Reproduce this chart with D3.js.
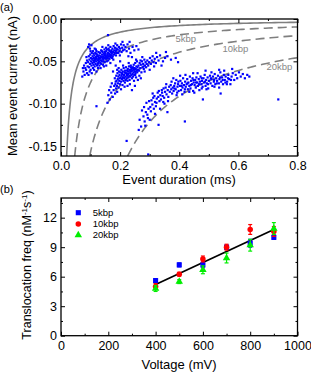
<!DOCTYPE html>
<html>
<head>
<meta charset="utf-8">
<script src="https://cdn.jsdelivr.net/npm/d3@7"></script>
<style>
body { margin: 0; background: #fff; }
text { font-family: "Liberation Sans", Arial, sans-serif; }
</style>
</head>
<body>
<svg id="chart" width="311" height="374"></svg>
<script>
// (a) events: [duration in us, mean current in pA]
var events5 = [
[72,-68],[76,-62],[78,-55],[80,-66],[82,-58],[84,-52],[85,-60],[88,-49],[88,-64],[90,-56],[86,-45],[74,-58],
[95,-30],[92,-33],[98,-35],[103,-31],[100,-38],
[92,-51],[94,-44],[95,-57],[96,-48],[98,-53],[99,-42],[100,-60],[101,-46],[102,-50],[103,-55],[104,-40],
[105,-47],[106,-52],[107,-44],[108,-58],[109,-49],[110,-41],[110,-54],[97,-62],[93,-66],[104,-64],[108,-38],
[111,-46],[112,-51],[113,-43],[114,-56],[115,-48],[116,-40],[117,-53],[118,-45],[119,-50],[120,-38],
[121,-47],[122,-55],[123,-42],[124,-49],[125,-44],[126,-52],[127,-39],[128,-46],[129,-50],[130,-43],
[112,-60],[118,-36],[125,-58],[114,-35],[120,-62],[130,-55],[116,-47],[122,-44],[127,-48],[113,-49],[119,-41],[124,-53],
[131,-47],[132,-40],[133,-52],[134,-44],[135,-49],[136,-37],[137,-45],[138,-50],[139,-42],[140,-47],
[141,-39],[142,-54],[143,-44],[144,-48],[145,-41],[146,-46],[147,-36],[148,-51],[149,-43],[150,-45],
[134,-58],[140,-33],[145,-56],[132,-46],[138,-38],[143,-50],[147,-42],[136,-53],[141,-45],[149,-39],
[151,-41],[152,-47],[153,-38],[154,-44],[155,-50],[156,-36],[157,-43],[158,-46],[159,-40],[160,-49],
[161,-35],[162,-44],[163,-41],[164,-47],[165,-38],[166,-42],[167,-33],[168,-45],[169,-39],[170,-43],
[153,-55],[160,-31],[167,-52],[158,-42],[163,-37],[155,-45],[165,-44],[152,-34],
[171,-37],[172,-41],[174,-35],[175,-44],[176,-39],[178,-32],[179,-42],[180,-37],[182,-40],[183,-34],
[185,-38],[186,-43],[188,-35],[189,-40],[190,-31],[177,-48],[184,-29],[173,-46],[187,-37],
[192,-36],[194,-40],[196,-33],[198,-38],[200,-35],[203,-30],[205,-39],[207,-34],[210,-37],[212,-31],
[215,-36],[218,-33],[222,-38],[225,-30],[199,-43],[208,-27],[230,-35],
[235,-40],[242,-33],[248,-37],[255,-32],[262,-36],[240,-45],[228,-44],[159,-19],[232,-27]
];

var events10 = [
[160,-90],[165,-95],[170,-87],[168,-80],[175,-92],[178,-84],[172,-76],[180,-79],[183,-88],[185,-74],
[186,-82],[163,-84],[190,-86],[157,-99],
[182,-70],[184,-77],[187,-67],[188,-73],[189,-79],[191,-64],[192,-71],[193,-76],[194,-68],[195,-81],
[196,-62],[197,-73],[198,-66],[199,-70],[200,-77],[190,-60],[195,-58],
[201,-63],[202,-69],[203,-74],[204,-60],[205,-67],[206,-71],[207,-65],[208,-78],[209,-62],[210,-69],
[211,-73],[212,-58],[213,-66],[214,-70],[215,-63],[216,-75],[217,-61],[218,-68],[219,-72],[220,-57],
[203,-83],[215,-80],[210,-55],[206,-64],[218,-64],[212,-69],
[221,-64],[222,-70],[223,-61],[224,-67],[225,-73],[226,-59],[227,-65],[228,-69],[229,-62],[230,-56],
[231,-67],[232,-72],[233,-60],[234,-64],[235,-68],[236,-55],[237,-62],[238,-66],[239,-59],[240,-70],
[225,-79],[233,-77],[229,-52],[223,-66],[237,-57],[227,-62],[235,-61],
[241,-61],[242,-65],[243,-57],[244,-68],[245,-63],[246,-54],[247,-60],[248,-66],[249,-58],[250,-62],
[251,-52],[252,-64],[253,-59],[254,-69],[255,-56],[256,-61],[257,-50],[258,-63],[259,-57],[260,-60],
[247,-73],[254,-48],[244,-58],[251,-66],
[262,-55],[264,-61],[266,-52],[268,-58],[270,-54],[272,-63],[274,-50],[276,-57],[278,-53],[280,-59],
[282,-48],[284,-55],[286,-51],[288,-57],[290,-53],[265,-67],[275,-45],[283,-62],[269,-49],[279,-56],
[292,-49],[295,-55],[298,-51],[301,-46],[304,-53],[307,-49],[310,-44],[313,-51],[317,-47],[321,-52],
[325,-45],[330,-49],[300,-60],[315,-56],[335,-43],
[345,-50],[352,-46],[360,-44],[372,-48],[388,-46],[396,-51],[340,-55],[355,-39],[322,-40],[250,-79],
[270,-70],[240,-84],[200,-50],[185,-55],[176,-62],[260,-72]
];

var events20 = [
[266,-119],[271,-127],[263,-131],[279,-115],[274,-108],[283,-121],[287,-110],[281,-104],[292,-113],[289,-99],
[296,-106],[294,-117],[298,-97],[285,-126],[300,-119],[318,-112],[335,-106],[350,-100],[362,-97],
[302,-104],[306,-96],[304,-109],[309,-101],[312,-93],[314,-106],[310,-88],[318,-98],[316,-91],[321,-103],
[324,-94],[327,-87],[323,-99],[329,-92],[333,-97],[331,-85],[336,-90],[338,-95],[341,-84],[344,-91],
[342,-87],[347,-82],[349,-93],[346,-98],
[352,-86],[354,-81],[357,-89],[356,-77],[361,-84],[363,-92],[366,-80],[368,-86],[371,-78],[373,-83],
[376,-88],[374,-74],[378,-81],[381,-85],[383,-79],[386,-76],[388,-83],[391,-90],[390,-72],[394,-80],
[396,-77],[398,-85],
[402,-79],[404,-73],[406,-84],[409,-76],[411,-81],[413,-70],[416,-78],[418,-86],[420,-74],[422,-80],
[425,-77],[427,-71],[429,-83],[431,-75],[434,-79],[436,-68],[438,-82],[440,-73],[443,-77],[445,-70],
[447,-85],[449,-75],
[452,-78],[454,-72],[456,-81],[458,-69],[461,-75],[463,-79],[466,-71],[468,-84],[470,-74],[472,-68],
[475,-77],[477,-73],[479,-80],[482,-70],[484,-75],[486,-66],[489,-79],[491,-72],[493,-76],[496,-69],
[498,-82],
[501,-73],[504,-67],[506,-76],[509,-71],[512,-79],[514,-68],[517,-74],[520,-65],[522,-77],[525,-70],
[528,-73],[531,-67],[534,-76],[536,-71],[539,-63],[542,-74],[545,-69],[548,-77],[551,-66],[554,-72],
[557,-68],
[562,-74],[566,-66],[569,-71],[573,-77],[577,-68],[581,-64],[586,-72],[591,-66],[596,-70],[602,-63],
[608,-68],[615,-65],[622,-70],[630,-66],[637,-68],
[384,-82],[397,-74],[408,-79],[419,-83],[428,-76],[439,-78],[448,-72],[457,-75],[467,-77],[476,-70],
[487,-74],[497,-77],[507,-70],[518,-72],[527,-76],[538,-69],[547,-72],[556,-75],[565,-70],[575,-72],
[393,-87],[410,-89],[434,-86],[451,-87],[476,-82],[492,-83],[519,-80],[535,-81],[561,-77],
[380,-70],[403,-67],[421,-66],[447,-64],[462,-64],[489,-61],[509,-63],[535,-60],[552,-61],[579,-59]
];

var strayEvents = [[735,-95],[419,-121],[222,-144],[295,-160],[120,-103],[330,-125],[360,-110],[540,-88],[480,-95]];

// constant-charge curves I = -q/t, q in nA*ms
var curveCharge = [0.0031, 0.0075, 0.0157, 0.0365];
var curveDashed = [false, true, true, true];
var curveLabels = ["5kbp", "10kbp", "20kbp"];

// (b) translocation frequency vs voltage
var voltages = [400, 500, 600, 700, 800, 900];
var freq5  = [5.6, 7.2, 7.2, 9.0, 9.4, 10.0];
var err5   = [0.2, 0.2, 0.3, 0.2, 0.4, 0.2];
var freq10 = [5.0, 6.25, 7.8, 9.0, 10.8, 10.6];
var err10  = [0.3, 0.2, 0.3, 0.3, 0.5, 0.5];
var freq20 = [4.8, 5.5, 6.7, 7.9, 9.2, 10.9];
var err20  = [0.3, 0.2, 0.4, 0.5, 0.6, 0.6];
var fitLine = [[400, 5.2], [900, 10.8]];
var seriesNames = ["5kbp", "10kbp", "20kbp"];

var svg = d3.select("#chart");

function drawFrame(x, y, xMaj, xMin, yMaj, yMin, xFmt, yFmt) {
    var xl = x.range()[0], xr = x.range()[1], yb = y.range()[0], yt = y.range()[1];
    var axes = [
        [d3.axisBottom(x).tickValues(xMaj).tickSize(-4).tickPadding(5).tickFormat(xFmt), 0, yb],
        [d3.axisBottom(x).tickValues(xMin).tickSize(-2).tickFormat(""), 0, yb],
        [d3.axisTop(x).tickValues(xMaj).tickSize(-4).tickFormat(""), 0, yt],
        [d3.axisTop(x).tickValues(xMin).tickSize(-2).tickFormat(""), 0, yt],
        [d3.axisLeft(y).tickValues(yMaj).tickSize(-4).tickPadding(4).tickFormat(yFmt), xl, 0],
        [d3.axisLeft(y).tickValues(yMin).tickSize(-2).tickFormat(""), xl, 0],
        [d3.axisRight(y).tickValues(yMaj).tickSize(-4).tickFormat(""), xr, 0],
        [d3.axisRight(y).tickValues(yMin).tickSize(-2).tickFormat(""), xr, 0]
    ];
    axes.forEach(function(a) {
        var g = svg.append("g").attr("transform", "translate(" + a[1] + "," + a[2] + ")").call(a[0]);
        g.select(".domain").remove();
        g.selectAll("line").attr("stroke", "#000").attr("stroke-width", 1);
        g.selectAll("text").attr("font-size", "12.5px").attr("fill", "#000")
            .attr("font-family", "'Liberation Sans', Arial, sans-serif");
    });
    svg.append("rect").attr("x", xl).attr("y", yt).attr("width", xr - xl).attr("height", yb - yt)
        .attr("fill", "none").attr("stroke", "#000").attr("stroke-width", 1.3);
}

// ---------- panel (a) ----------
var xa = d3.scaleLinear().domain([0, 0.8]).range([61, 297.5]);
var ya = d3.scaleLinear().domain([-0.1618, 0]).range([156, 19]);

svg.append("clipPath").attr("id", "clipA").append("rect")
    .attr("x", 61).attr("y", 19).attr("width", 236.5).attr("height", 137);

var plotA = svg.append("g").attr("clip-path", "url(#clipA)");

var curveLine = d3.line().x(function(d) { return xa(d[0]); }).y(function(d) { return ya(d[1]); });
curveCharge.forEach(function(q, i) {
    var t0 = q / 0.1618, pts = [];
    for (var k = 0; k <= 120; k++) {
        var t = t0 + (0.8 - t0) * Math.pow(k / 120, 2);
        pts.push([t, -q / t]);
    }
    plotA.append("path").attr("d", curveLine(pts)).attr("fill", "none")
        .attr("stroke", "#7f7f7f").attr("stroke-width", 1.6)
        .attr("stroke-dasharray", curveDashed[i] ? "9,5" : null);
});

var allEvents = events5.concat(events10, events20, strayEvents);
plotA.selectAll("rect.ev").data(allEvents).enter().append("rect")
    .attr("class", "ev")
    .attr("x", function(d) { return xa(d[0] / 1000) - 1.1; })
    .attr("y", function(d) { return ya(d[1] / 1000) - 1.1; })
    .attr("width", 2.2).attr("height", 2.2)
    .attr("fill", "#0000ff");

var labelPos = [[175.5, 41.5], [222.5, 52], [266.5, 70]];
svg.selectAll("text.clabel").data(curveLabels).enter().append("text")
    .attr("class", "clabel")
    .attr("x", function(d, i) { return labelPos[i][0]; })
    .attr("y", function(d, i) { return labelPos[i][1]; })
    .attr("font-size", "9.5px").attr("fill", "#888")
    .text(function(d) { return d; });

drawFrame(xa, ya, [0, 0.2, 0.4, 0.6, 0.8], [0.1, 0.3, 0.5, 0.7],
    [0, -0.05, -0.1, -0.15], [-0.025, -0.075, -0.125],
    function(d) { return d.toFixed(1); }, function(d) { return d.toFixed(2); });

svg.append("text").attr("x", 179).attr("y", 184).attr("text-anchor", "middle")
    .attr("font-size", "13px").text("Event duration (ms)");
svg.append("text").attr("transform", "translate(16.5,86) rotate(-90)").attr("text-anchor", "middle")
    .attr("font-size", "13px").text("Mean event current (nA)");
svg.append("text").attr("x", 0).attr("y", 11).attr("font-size", "11px").text("(a)");

// ---------- panel (b) ----------
var xb = d3.scaleLinear().domain([0, 1000]).range([61, 297.5]);
var yb = d3.scaleLinear().domain([0, 14]).range([335.7, 198]);

drawFrame(xb, yb, [0, 200, 400, 600, 800, 1000], [100, 300, 500, 700, 900],
    [0, 3, 6, 9, 12], [1.5, 4.5, 7.5, 10.5, 13.5],
    function(d) { return d; }, function(d) { return d; });

svg.append("path").attr("d", d3.line().x(function(d) { return xb(d[0]); }).y(function(d) { return yb(d[1]); })(fitLine))
    .attr("stroke", "#000").attr("stroke-width", 1.8).attr("fill", "none");

var series = [
    {vals: freq5, errs: err5, color: "#0000ff", shape: d3.symbolSquare, size: 26},
    {vals: freq10, errs: err10, color: "#ff0000", shape: d3.symbolCircle, size: 24},
    {vals: freq20, errs: err20, color: "#00ee00", shape: d3.symbolTriangle, size: 24}
];

series.forEach(function(s) {
    var g = svg.append("g");
    voltages.forEach(function(v, i) {
        var cx = xb(v), lo = yb(s.vals[i] - s.errs[i]), hi = yb(s.vals[i] + s.errs[i]);
        g.append("line").attr("x1", cx).attr("x2", cx).attr("y1", lo).attr("y2", hi)
            .attr("stroke", s.color).attr("stroke-width", 1.2);
        [lo, hi].forEach(function(yy) {
            g.append("line").attr("x1", cx - 2).attr("x2", cx + 2).attr("y1", yy).attr("y2", yy)
                .attr("stroke", s.color).attr("stroke-width", 1.2);
        });
    });
    g.selectAll("path").data(s.vals).enter().append("path")
        .attr("d", d3.symbol().type(s.shape).size(s.size))
        .attr("transform", function(d, i) { return "translate(" + xb(voltages[i]) + "," + yb(d) + ")"; })
        .attr("fill", s.color);
});

// legend
seriesNames.forEach(function(name, i) {
    var ly = 212.7 + i * 11.2;
    svg.append("path").attr("d", d3.symbol().type(series[i].shape).size(series[i].size)())
        .attr("transform", "translate(78.3," + ly + ")").attr("fill", series[i].color);
    svg.append("text").attr("x", 92.7).attr("y", ly + 3.3).attr("font-size", "9.5px").text(name);
});

svg.append("text").attr("x", 179).attr("y", 369).attr("text-anchor", "middle")
    .attr("font-size", "13px").text("Voltage (mV)");
var yt = svg.append("text").attr("transform", "translate(31,265) rotate(-90)").attr("text-anchor", "middle")
    .attr("font-size", "12.5px");
yt.append("tspan").text("Translocation freq (nM");
yt.append("tspan").attr("dy", -4.5).attr("font-size", "8px").text("-1");
yt.append("tspan").attr("dy", 4.5).text("s");
yt.append("tspan").attr("dy", -4.5).attr("font-size", "8px").text("-1");
yt.append("tspan").attr("dy", 4.5).text(")");
svg.append("text").attr("x", 0).attr("y", 193).attr("font-size", "11px").text("(b)");
</script>
</body>
</html>
